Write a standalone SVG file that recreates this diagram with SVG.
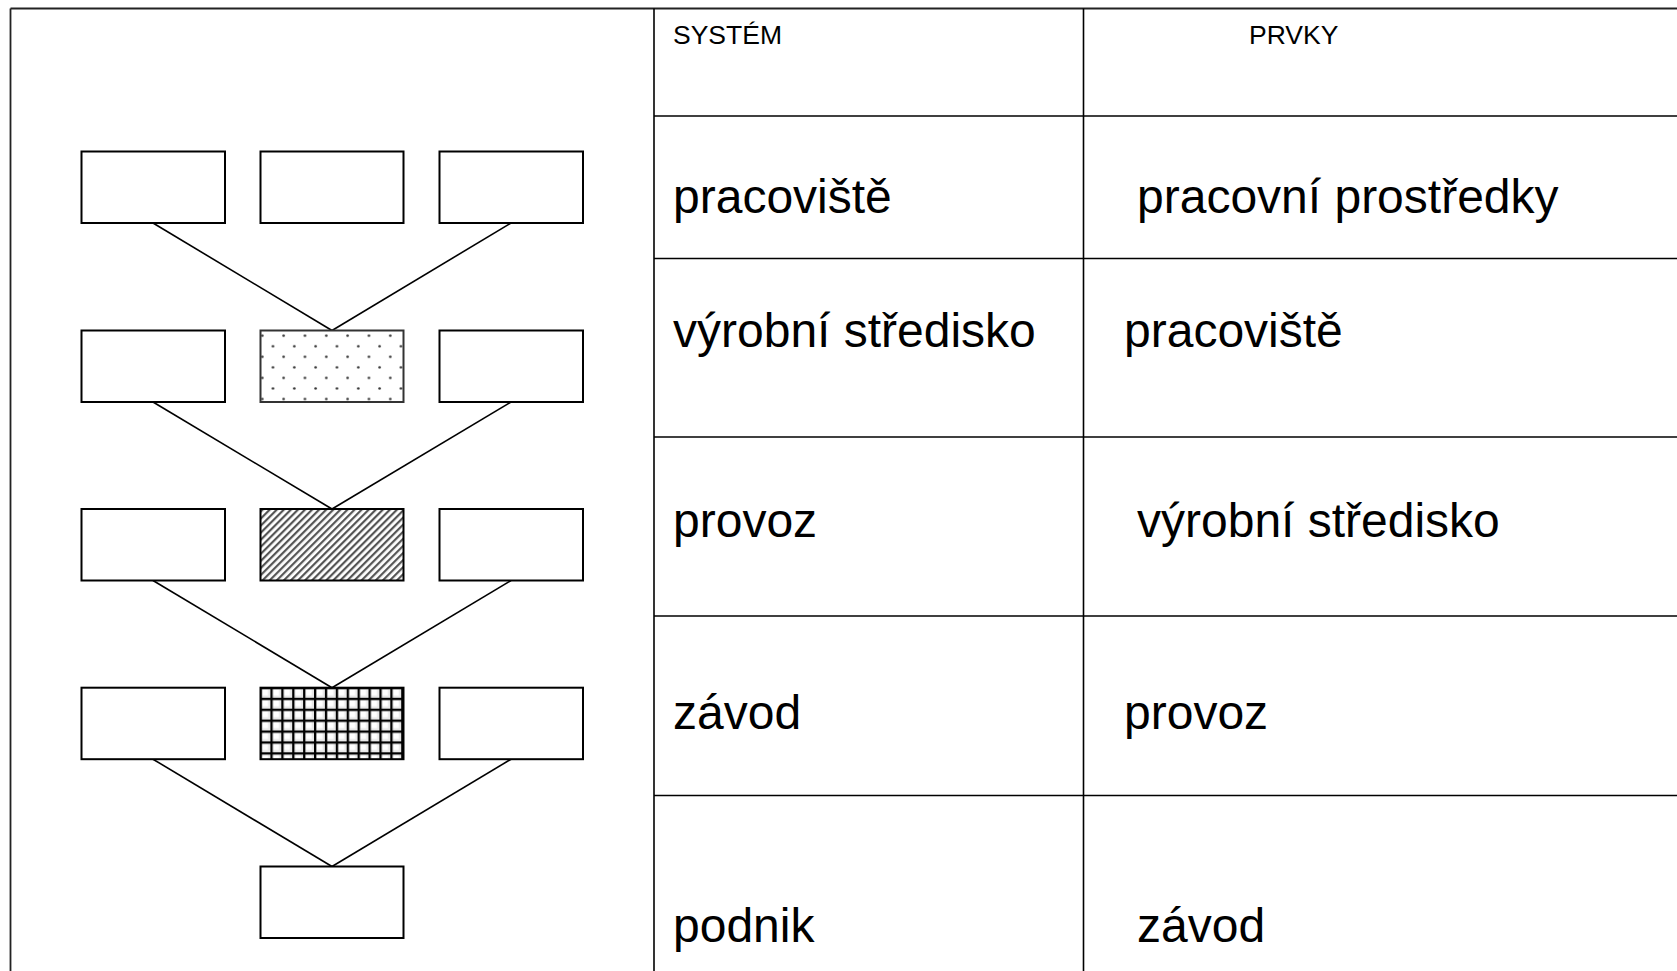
<svg xmlns="http://www.w3.org/2000/svg" width="1677" height="971" viewBox="0 0 1677 971">
<style>
.box{fill:#fff;stroke:#000;stroke-width:2}
.con{stroke:#000;stroke-width:1.6;fill:none}
.frame{stroke:#222;stroke-width:1.8;fill:none}
.big{font-family:"Liberation Sans",Arial,sans-serif;font-size:48px;fill:#000}
.small{font-family:"Liberation Sans",Arial,sans-serif;font-size:26.5px;fill:#000}
</style>
<defs>
<pattern id="dots" patternUnits="userSpaceOnUse" x="256.97" y="330.43" width="21.33" height="21.1">
<rect width="21.33" height="21.1" fill="#fff"/>
<circle cx="5.33" cy="5.27" r="1.3" fill="#333"/>
<circle cx="16" cy="15.82" r="1.3" fill="#333"/>
</pattern>
<pattern id="hatch" patternUnits="userSpaceOnUse" width="5" height="5" patternTransform="rotate(45)">
<rect width="5" height="5" fill="#fff"/>
<rect width="2.2" height="5" fill="#555"/>
</pattern>
<pattern id="mesh" patternUnits="userSpaceOnUse" x="259.5" y="686.9" width="10.9" height="10.9">
<rect width="10.9" height="10.9" fill="#e8e8e8"/>
<rect x="2.6" y="2.6" width="6" height="6" fill="#fff"/>
<rect width="10.9" height="2.3" fill="#000"/>
<rect width="2.3" height="10.9" fill="#000"/>
</pattern>
</defs>
<rect width="1677" height="971" fill="#fff"/>

<g id="frame">
<line class="frame" x1="10.5" y1="8.5" x2="10.5" y2="971"/>
<line class="frame" x1="10.5" y1="8.5" x2="1677" y2="8.5"/>
</g>

<g id="table">
<line class="con" x1="654" y1="8.5" x2="654" y2="971"/>
<line class="con" x1="1083.5" y1="8.5" x2="1083.5" y2="971"/>
<line class="con" x1="654" y1="116" x2="1677" y2="116"/>
<line class="con" x1="654" y1="258.5" x2="1677" y2="258.5"/>
<line class="con" x1="654" y1="437" x2="1677" y2="437"/>
<line class="con" x1="654" y1="616" x2="1677" y2="616"/>
<line class="con" x1="654" y1="795.5" x2="1677" y2="795.5"/>
<text class="small" x="673" y="44">SYSTÉM</text>
<text class="small" x="1249" y="44">PRVKY</text>
<text class="big" x="673" y="213">pracoviště</text>
<text class="big" x="1137" y="213">pracovní prostředky</text>
<text class="big" x="673" y="346.5">výrobní středisko</text>
<text class="big" x="1124" y="346.5">pracoviště</text>
<text class="big" x="673" y="537">provoz</text>
<text class="big" x="1137" y="537">výrobní středisko</text>
<text class="big" x="673" y="728.5">závod</text>
<text class="big" x="1124" y="728.5">provoz</text>
<text class="big" x="673" y="941.5">podnik</text>
<text class="big" x="1137" y="941.5">závod</text>
</g>

<g id="connectors">
<line class="con" x1="153" y1="223" x2="332" y2="330.5"/>
<line class="con" x1="511" y1="223" x2="332" y2="330.5"/>
<line class="con" x1="153" y1="402" x2="332" y2="509"/>
<line class="con" x1="511" y1="402" x2="332" y2="509"/>
<line class="con" x1="153" y1="580.5" x2="332" y2="687.7"/>
<line class="con" x1="511" y1="580.5" x2="332" y2="687.7"/>
<line class="con" x1="153" y1="759.2" x2="332" y2="866.5"/>
<line class="con" x1="511" y1="759.2" x2="332" y2="866.5"/>
</g>

<g id="n1a"><rect class="box" x="81.5" y="151.5" width="143.5" height="71.5"/></g>
<g id="n1b"><rect class="box" x="260.5" y="151.5" width="143" height="71.5"/></g>
<g id="n1c"><rect class="box" x="439.5" y="151.5" width="143.5" height="71.5"/></g>

<g id="n2a"><rect class="box" x="81.5" y="330.5" width="143.5" height="71.5"/></g>
<g id="n2b"><rect class="box" x="260.5" y="330.5" width="143" height="71.5" style="fill:url(#dots);stroke:#333"/></g>
<g id="n2c"><rect class="box" x="439.5" y="330.5" width="143.5" height="71.5"/></g>

<g id="n3a"><rect class="box" x="81.5" y="509" width="143.5" height="71.5"/></g>
<g id="n3b"><rect class="box" x="260.5" y="509" width="143" height="71.5" style="fill:url(#hatch)"/></g>
<g id="n3c"><rect class="box" x="439.5" y="509" width="143.5" height="71.5"/></g>

<g id="n4a"><rect class="box" x="81.5" y="687.7" width="143.5" height="71.5"/></g>
<g id="n4b"><rect class="box" x="260.5" y="687.7" width="143" height="71.5" style="fill:url(#mesh)"/></g>
<g id="n4c"><rect class="box" x="439.5" y="687.7" width="143.5" height="71.5"/></g>

<g id="n5"><rect class="box" x="260.5" y="866.5" width="143" height="71.5"/></g>
</svg>
